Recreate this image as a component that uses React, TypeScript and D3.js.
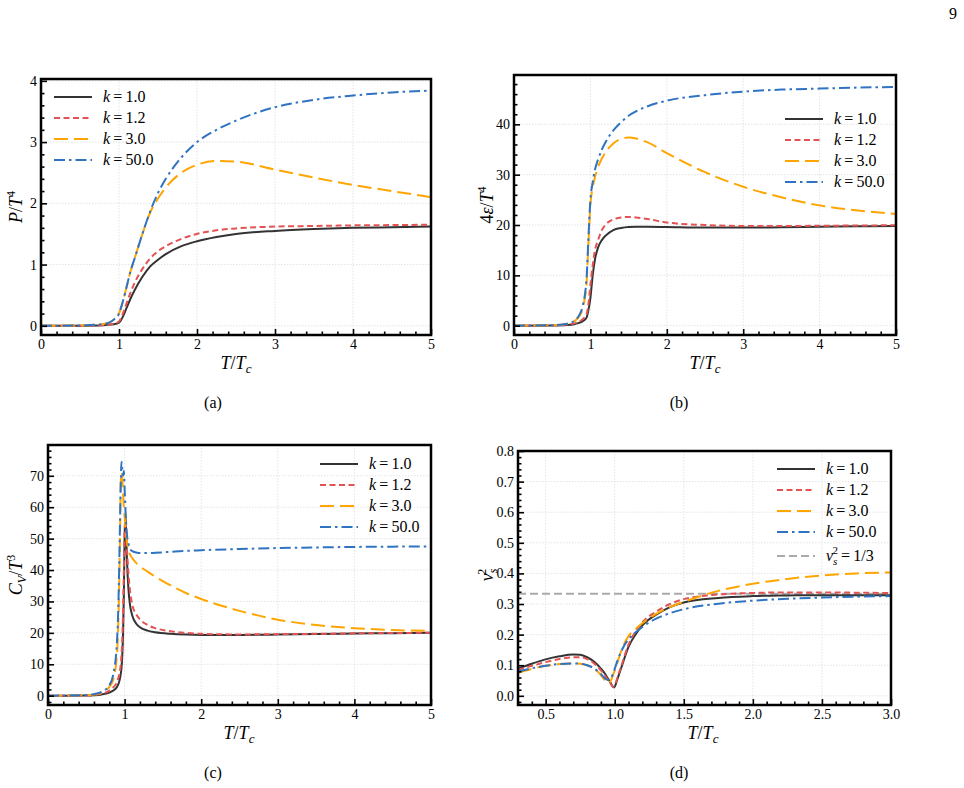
import { useEffect, useRef } from "react";
import * as d3 from "d3";

// (a) pressure
const tA = [0, 0.5, 0.8, 0.9, 0.95, 1.0, 1.05, 1.1, 1.15, 1.2, 1.3, 1.4, 1.5, 1.6, 1.8, 2.0, 2.25, 2.5, 3.0, 3.5, 4.0, 4.5, 5.0];
const pK1 = [0, 0.002, 0.01, 0.02, 0.03, 0.05, 0.15, 0.3, 0.45, 0.58, 0.8, 0.97, 1.08, 1.17, 1.3, 1.38, 1.45, 1.5, 1.55, 1.58, 1.6, 1.61, 1.62];
const pK12 = [0, 0.003, 0.015, 0.025, 0.04, 0.07, 0.2, 0.38, 0.55, 0.7, 0.93, 1.1, 1.22, 1.3, 1.42, 1.5, 1.56, 1.59, 1.62, 1.63, 1.64, 1.645, 1.65];
const pK3 = [0, 0.005, 0.03, 0.07, 0.12, 0.2, 0.4, 0.65, 0.9, 1.1, 1.5, 1.85, 2.08, 2.26, 2.5, 2.63, 2.69, 2.68, 2.55, 2.42, 2.3, 2.2, 2.1];
const pK50 = [0, 0.005, 0.03, 0.07, 0.12, 0.2, 0.4, 0.65, 0.9, 1.1, 1.5, 1.87, 2.17, 2.4, 2.75, 3.0, 3.2, 3.35, 3.57, 3.69, 3.76, 3.81, 3.84];

// (b) energy density
const tB = [0, 0.5, 0.7, 0.8, 0.85, 0.9, 0.95, 0.97, 1.0, 1.03, 1.06, 1.1, 1.15, 1.2, 1.3, 1.4, 1.5, 1.6, 1.75, 2.0, 2.5, 3.0, 3.5, 4.0, 4.5, 5.0];
const eK1 = [0, 0.05, 0.15, 0.35, 0.55, 0.9, 1.6, 2.8, 5.5, 10, 13.2, 15.5, 17, 17.9, 19.0, 19.4, 19.6, 19.65, 19.65, 19.6, 19.5, 19.5, 19.55, 19.65, 19.75, 19.8];
const eK12 = [0, 0.07, 0.25, 0.5, 0.8, 1.3, 2.3, 3.8, 8, 12, 15, 17, 19, 20.1, 21.1, 21.5, 21.6, 21.5, 21.2, 20.5, 20.0, 19.8, 19.8, 19.85, 19.9, 19.95];
const eK3 = [0, 0.1, 0.4, 1.0, 1.8, 3.5, 8.5, 15, 24, 27.5, 29.5, 31.5, 33.2, 34.5, 36.2, 37.1, 37.4, 37.2, 36.4, 34.3, 30.5, 27.6, 25.5, 23.9, 22.9, 22.2];
const eK50 = [0, 0.1, 0.4, 1.1, 2.0, 4.0, 9.5, 16, 25, 28.5, 31, 33, 35, 36.5, 38.8, 40.4, 41.7, 42.6, 43.6, 44.7, 45.8, 46.5, 46.9, 47.1, 47.3, 47.4];

// (c) heat capacity
const tC = [0, 0.5, 0.6, 0.7, 0.8, 0.85, 0.9, 0.92, 0.94, 0.95, 0.96, 0.97, 0.98, 0.99, 1.0, 1.01, 1.02, 1.03, 1.05, 1.07, 1.1, 1.15, 1.2, 1.3, 1.4, 1.6, 1.8, 2.0, 2.5, 3.0, 3.5, 4.0, 4.5, 5.0];
const cK1 = [0, 0.05, 0.15, 0.4, 1.0, 1.6, 2.8, 3.8, 5.5, 7, 9, 13, 20, 32, 50, 58, 52, 44, 34, 29, 25.5, 23, 21.8, 20.7, 20.2, 19.7, 19.45, 19.35, 19.35, 19.5, 19.65, 19.8, 19.9, 20.0];
const cK12 = [0, 0.07, 0.2, 0.6, 1.6, 2.6, 4.3, 5.8, 8, 10, 13, 18, 27, 40, 52, 56, 53, 47, 39, 33.5, 29, 26, 24.3, 22.5, 21.5, 20.5, 20.0, 19.7, 19.5, 19.6, 19.7, 19.85, 19.95, 20.05];
const cK3 = [0, 0.15, 0.4, 1.0, 2.8, 5, 13, 25, 50, 68, 71, 69, 64, 60, 57, 54, 51, 49, 46.5, 45, 43.8, 42.3, 41.2, 39.5, 37.9, 35.1, 32.7, 30.8, 27, 24.2, 22.5, 21.5, 20.9, 20.6];
const cK50 = [0, 0.2, 0.5, 1.2, 3.3, 6.5, 17, 30, 55, 68, 74.5, 72, 70, 71.5, 66, 60, 55, 51.5, 48.5, 46.8, 46, 45.6, 45.4, 45.4, 45.5, 45.8, 46.1, 46.3, 46.7, 47.0, 47.2, 47.35, 47.45, 47.5];

// (d) speed of sound squared
const tD = [0.3, 0.4, 0.5, 0.6, 0.7, 0.75, 0.8, 0.85, 0.9, 0.93, 0.95, 0.97, 0.99, 1.0, 1.02, 1.05, 1.1, 1.15, 1.2, 1.3, 1.4, 1.5, 1.75, 2.0, 2.25, 2.5, 2.75, 3.0];
const vK1 = [0.089, 0.105, 0.119, 0.129, 0.135, 0.134, 0.126, 0.112, 0.089, 0.072, 0.057, 0.043, 0.028, 0.03, 0.055, 0.095, 0.16, 0.2, 0.23, 0.265, 0.29, 0.305, 0.32, 0.326, 0.328, 0.329, 0.329, 0.329];
const vK12 = [0.085, 0.098, 0.11, 0.12, 0.126, 0.126, 0.12, 0.106, 0.083, 0.066, 0.052, 0.04, 0.03, 0.033, 0.06, 0.1, 0.167, 0.21, 0.24, 0.275, 0.3, 0.316, 0.331, 0.336, 0.338, 0.338, 0.337, 0.336];
const vK3 = [0.075, 0.088, 0.098, 0.104, 0.106, 0.105, 0.1, 0.089, 0.068, 0.05, 0.042, 0.048, 0.07, 0.082, 0.11, 0.15, 0.195, 0.218, 0.237, 0.268, 0.29, 0.307, 0.343, 0.366, 0.382, 0.393, 0.4, 0.403];
const vK50 = [0.08, 0.09, 0.098, 0.104, 0.106, 0.105, 0.1, 0.09, 0.071, 0.057, 0.052, 0.056, 0.075, 0.088, 0.115, 0.148, 0.185, 0.207, 0.225, 0.252, 0.27, 0.283, 0.301, 0.311, 0.317, 0.321, 0.324, 0.326];
const vsConformal = 1 / 3;

const kValues = ["1.0", "1.2", "3.0", "50.0"];
const colors = ["#333333", "#e35353", "#ffa500", "#2f73c2"];
const dashes = ["none", "6,3.5", "14,6", "11,4,2.5,4"];
const refColor = "#aaaaaa";
const refDash = "8,4";

const FONT = "Liberation Serif";

type Panel = {
  id: string;
  box: [number, number, number, number]; // left, top, right, bottom
  xDom: [number, number];
  yDom: [number, number];
  xMajor: number[];
  xMinor: number;
  yMajor: number[];
  yMinor: number;
  fmt: (v: number) => string;
  xs: number[];
  ys: number[][];
  legend: [number, number];
  yLabel: string;
  yLabelPos: [number, number];
  xLabelPos: [number, number];
  caption: string;
  captionPos: [number, number];
  ref?: number;
};

const intFmt = (v: number) => d3.format("d")(v);
const oneFmt = (v: number) => d3.format(".1f")(v);

const panels: Panel[] = [
  {
    id: "a", box: [41, 79, 431, 335], xDom: [0, 5], yDom: [-0.15, 4.03],
    xMajor: d3.range(0, 6), xMinor: 0.2, yMajor: d3.range(0, 5), yMinor: 0.2, fmt: intFmt,
    xs: tA, ys: [pK1, pK12, pK3, pK50], legend: [54, 97],
    yLabel: "P", yLabelPos: [16, 207], xLabelPos: [236, 363], caption: "(a)", captionPos: [213, 403],
  },
  {
    id: "b", box: [514, 75, 896, 335], xDom: [0, 5], yDom: [-1.85, 49.8],
    xMajor: d3.range(0, 6), xMinor: 0.2, yMajor: d3.range(0, 50, 10), yMinor: 2, fmt: intFmt,
    xs: tB, ys: [eK1, eK12, eK3, eK50], legend: [785, 119],
    yLabel: "E", yLabelPos: [487, 205], xLabelPos: [705, 363], caption: "(b)", captionPos: [679, 403],
  },
  {
    id: "c", box: [48, 445, 431, 705], xDom: [0, 5], yDom: [-2.96, 79.8],
    xMajor: d3.range(0, 6), xMinor: 0.2, yMajor: d3.range(0, 80, 10), yMinor: 2, fmt: intFmt,
    xs: tC, ys: [cK1, cK12, cK3, cK50], legend: [320, 464],
    yLabel: "C", yLabelPos: [16, 575], xLabelPos: [239, 733], caption: "(c)", captionPos: [213, 773],
  },
  {
    id: "d", box: [518, 451, 891, 705], xDom: [0.3, 3.0], yDom: [-0.03, 0.8],
    xMajor: d3.range(0.5, 3.01, 0.5), xMinor: 0.1, yMajor: d3.range(0, 0.81, 0.1), yMinor: 0.02, fmt: oneFmt,
    xs: tD, ys: [vK1, vK12, vK3, vK50], legend: [777, 469],
    yLabel: "V", yLabelPos: [487, 575], xLabelPos: [703, 733], caption: "(d)", captionPos: [679, 773],
    ref: vsConformal,
  },
];

function minorTicks(dom: [number, number], step: number, major: number[]) {
  const out: number[] = [];
  const n0 = Math.ceil(dom[0] / step - 1e-6);
  const n1 = Math.floor(dom[1] / step + 1e-6);
  for (let i = n0; i <= n1; i++) {
    const v = +(i * step).toFixed(6);
    if (!major.some((m) => Math.abs(m - v) < 1e-6)) out.push(v);
  }
  return out;
}

export default function App() {
  const ref = useRef<SVGSVGElement>(null);

  useEffect(() => {
    const svg = d3.select(ref.current);
    svg.selectAll("*").remove();

    svg.append("text").attr("x", 957).attr("y", 19).attr("text-anchor", "end")
      .attr("font-family", FONT).attr("font-size", 16).text("9");

    panels.forEach((p) => {
      const [l, t, r, b] = p.box;
      const x = d3.scaleLinear().domain(p.xDom).range([l, r]);
      const y = d3.scaleLinear().domain(p.yDom).range([b, t]);
      const g = svg.append("g");

      // grid
      g.append("g").selectAll("line").data(p.xMajor).join("line")
        .attr("x1", (d) => x(d)).attr("x2", (d) => x(d)).attr("y1", t).attr("y2", b)
        .attr("stroke", "#d9d9d9").attr("stroke-width", 0.7).attr("stroke-dasharray", "1.5,1.5");
      g.append("g").selectAll("line").data(p.yMajor).join("line")
        .attr("x1", l).attr("x2", r).attr("y1", (d) => y(d)).attr("y2", (d) => y(d))
        .attr("stroke", "#d9d9d9").attr("stroke-width", 0.7).attr("stroke-dasharray", "1.5,1.5");

      const clipId = "clip-" + p.id;
      g.append("clipPath").attr("id", clipId).append("rect")
        .attr("x", l).attr("y", t).attr("width", r - l).attr("height", b - t);

      const lines = g.append("g").attr("clip-path", `url(#${clipId})`);
      if (p.ref !== undefined) {
        lines.append("line").attr("x1", l).attr("x2", r).attr("y1", y(p.ref)).attr("y2", y(p.ref))
          .attr("stroke", refColor).attr("stroke-width", 2).attr("stroke-dasharray", refDash);
      }
      const line = d3.line<number>()
        .x((_, i) => x(p.xs[i]))
        .y((d) => y(d))
        .curve(d3.curveMonotoneX);
      p.ys.forEach((ys, k) => {
        lines.append("path").attr("d", line(ys)).attr("fill", "none")
          .attr("stroke", colors[k]).attr("stroke-width", 2)
          .attr("stroke-dasharray", dashes[k]);
      });

      // axes with inward ticks
      const xAx = g.append("g").attr("transform", `translate(0,${b})`)
        .call(d3.axisBottom(x).tickValues(p.xMajor).tickSize(-6).tickPadding(4).tickFormat((d) => p.fmt(+d)));
      g.append("g").attr("transform", `translate(0,${b})`)
        .call(d3.axisBottom(x).tickValues(minorTicks(p.xDom, p.xMinor, p.xMajor)).tickSize(-3.5).tickFormat(() => ""));
      const yAx = g.append("g").attr("transform", `translate(${l},0)`)
        .call(d3.axisLeft(y).tickValues(p.yMajor).tickSize(-6).tickPadding(4).tickFormat((d) => p.fmt(+d)));
      g.append("g").attr("transform", `translate(${l},0)`)
        .call(d3.axisLeft(y).tickValues(minorTicks(p.yDom, p.yMinor, p.yMajor)).tickSize(-3.5).tickFormat(() => ""));
      g.selectAll(".domain").remove();
      g.selectAll(".tick line").attr("stroke", "#000").attr("stroke-width", 1.6);
      [xAx, yAx].forEach((a) => a.attr("font-family", FONT).attr("font-size", 14)
        .selectAll("text").attr("fill", "#000"));

      g.append("rect").attr("x", l).attr("y", t).attr("width", r - l).attr("height", b - t)
        .attr("fill", "none").attr("stroke", "#000").attr("stroke-width", 2.5);

      // legend
      const [lx, ly] = p.legend;
      const entries = kValues.map((kv, k) => ({ color: colors[k], dash: dashes[k], k: kv }));
      const lg = g.append("g").attr("font-family", FONT).attr("font-size", 16);
      entries.forEach((e, i) => {
        const yy = ly + i * 21;
        lg.append("line").attr("x1", lx).attr("x2", lx + 38).attr("y1", yy).attr("y2", yy)
          .attr("stroke", e.color).attr("stroke-width", 2).attr("stroke-dasharray", e.dash);
        const tx = lg.append("text").attr("x", lx + 49).attr("y", yy + 5);
        tx.append("tspan").attr("font-style", "italic").text("k");
        tx.append("tspan").text("\u2009=\u2009" + e.k);
      });
      if (p.ref !== undefined) {
        const yy = ly + 4 * 21 + 3;
        lg.append("line").attr("x1", lx).attr("x2", lx + 38).attr("y1", yy).attr("y2", yy)
          .attr("stroke", refColor).attr("stroke-width", 2).attr("stroke-dasharray", refDash);
        const tx = lg.append("text").attr("x", lx + 49).attr("y", yy + 5);
        tx.append("tspan").attr("font-style", "italic").text("v");
        tx.append("tspan").attr("dy", 4).attr("font-size", 11).attr("font-style", "italic").text("s");
        tx.append("tspan").attr("dx", -5).attr("dy", -11).attr("font-size", 11).text("2");
        tx.append("tspan").attr("dy", 7).text("\u2009=\u20091/3");
      }

      // x label
      const xl = g.append("text").attr("x", p.xLabelPos[0]).attr("y", p.xLabelPos[1] + 6)
        .attr("text-anchor", "middle").attr("font-family", FONT).attr("font-size", 18);
      xl.append("tspan").attr("font-style", "italic").text("T");
      xl.append("tspan").text("/");
      xl.append("tspan").attr("font-style", "italic").text("T");
      xl.append("tspan").attr("dy", 4).attr("font-size", 13).attr("font-style", "italic").text("c");

      // y label (rotated)
      const yl = g.append("text")
        .attr("transform", `translate(${p.yLabelPos[0] + 6},${p.yLabelPos[1]}) rotate(-90)`)
        .attr("text-anchor", "middle").attr("font-family", FONT).attr("font-size", 18);
      if (p.yLabel === "P") {
        yl.append("tspan").attr("font-style", "italic").text("P");
        yl.append("tspan").text("/");
        yl.append("tspan").attr("font-style", "italic").text("T");
        yl.append("tspan").attr("dy", -7).attr("font-size", 12).text("4");
      } else if (p.yLabel === "E") {
        yl.append("tspan").text("4");
        yl.append("tspan").attr("font-style", "italic").text("\u03b5");
        yl.append("tspan").text("/");
        yl.append("tspan").attr("font-style", "italic").text("T");
        yl.append("tspan").attr("dy", -7).attr("font-size", 12).text("4");
      } else if (p.yLabel === "C") {
        yl.append("tspan").attr("font-style", "italic").text("C");
        yl.append("tspan").attr("dy", 4).attr("font-size", 12).attr("font-style", "italic").text("V");
        yl.append("tspan").attr("dy", -4).text("/");
        yl.append("tspan").attr("font-style", "italic").text("T");
        yl.append("tspan").attr("dy", -7).attr("font-size", 12).text("3");
      } else {
        yl.append("tspan").attr("font-style", "italic").text("v");
        yl.append("tspan").attr("dy", 4).attr("font-size", 12).attr("font-style", "italic").text("s");
        yl.append("tspan").attr("dx", -6).attr("dy", -11).attr("font-size", 12).text("2");
      }

      g.append("text").attr("x", p.captionPos[0]).attr("y", p.captionPos[1] + 5)
        .attr("text-anchor", "middle").attr("font-family", FONT).attr("font-size", 16).text(p.caption);
    });
  }, []);

  return (
    <svg ref={ref} width={964} height={788}
      style={{ position: "absolute", left: 0, top: 0, background: "#fff" }} />
  );
}
